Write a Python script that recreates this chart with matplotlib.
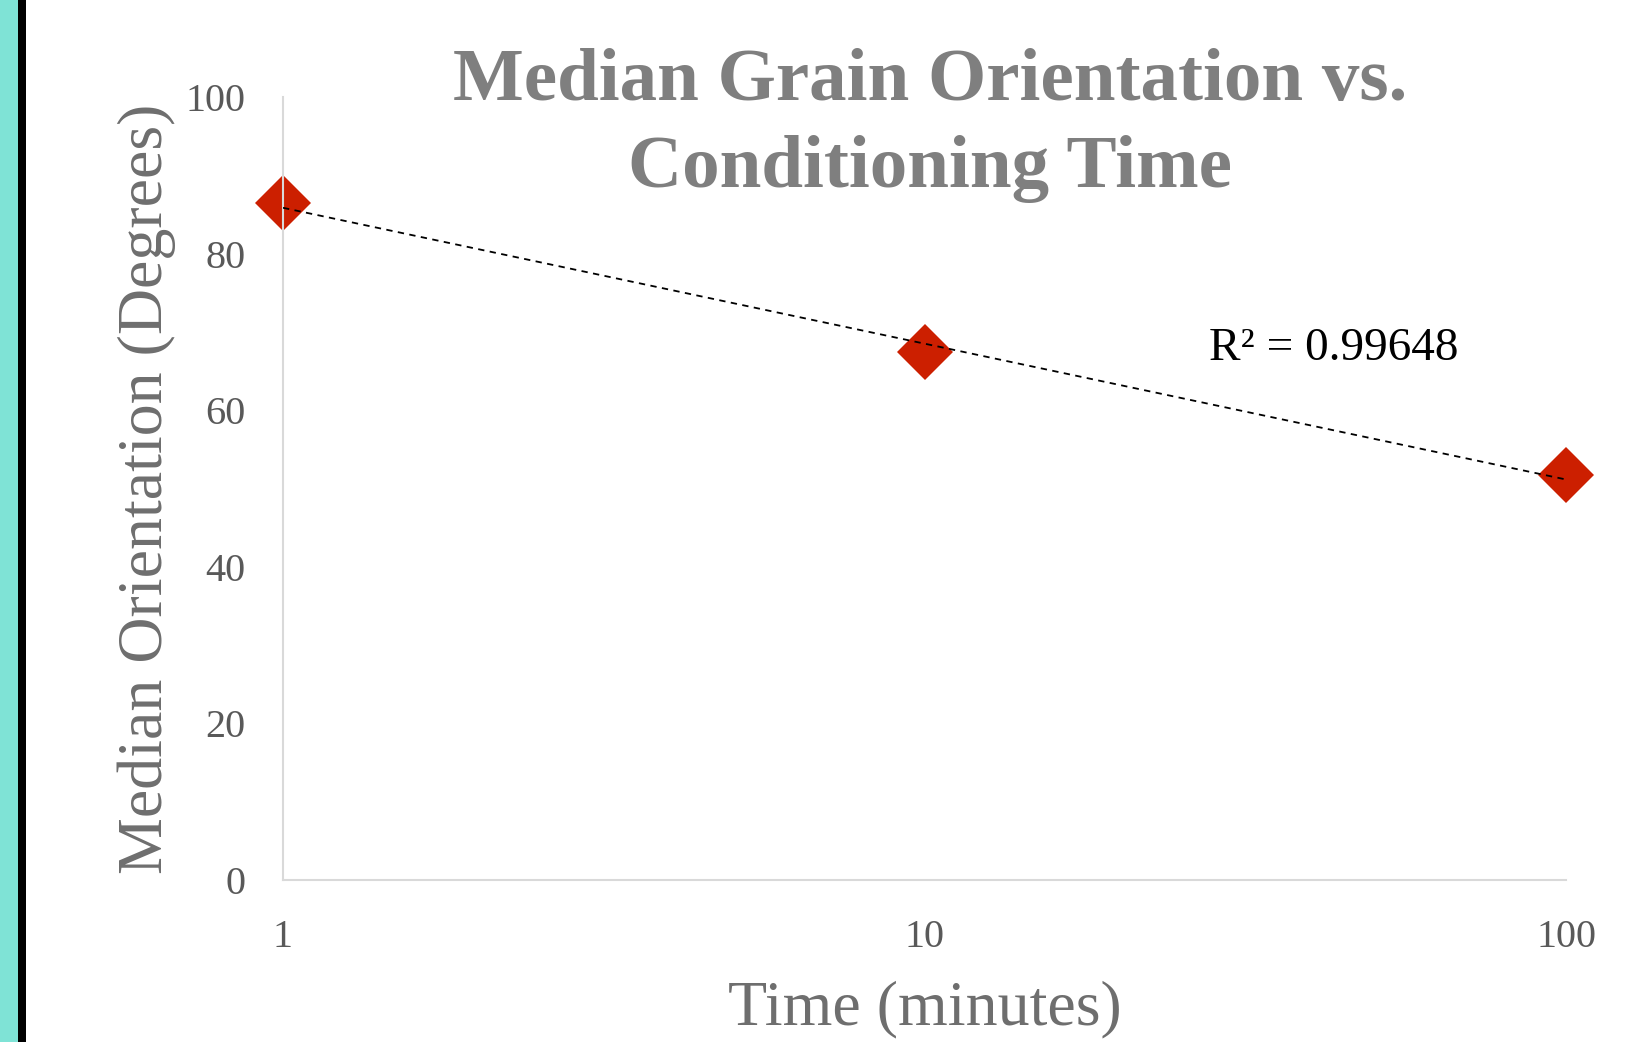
import numpy as np
import matplotlib
matplotlib.use("Agg")
import matplotlib.pyplot as plt
from matplotlib.patches import Rectangle

# data
time_min = [1, 10, 100]
median_orientation = [86.4, 67.4, 51.7]
r_squared_text = "R² = 0.99648"

TITLE = "Median Grain Orientation vs.\nConditioning Time"
X_LABEL = "Time (minutes)"
Y_LABEL = "Median Orientation (Degrees)"

SERIF = ["Liberation Serif", "DejaVu Serif"]
plt.rcParams["font.family"] = SERIF

W, H = 1645, 1042
fig = plt.figure(figsize=(W / 100, H / 100), dpi=100)
fig.patch.set_facecolor("white")

# teal frame strip + black rule on the left edge
fig.patches.append(Rectangle((0, 0), 18 / W, 1, transform=fig.transFigure,
                             facecolor="#7fe3d6", edgecolor="none", zorder=0))
fig.patches.append(Rectangle((18 / W, 0), 8 / W, 1, transform=fig.transFigure,
                             facecolor="black", edgecolor="none", zorder=0))

ax = fig.add_axes([283 / W, 1 - 880 / H, (1566 - 283) / W, (880 - 97) / H])
ax.set_xscale("log")
ax.set_xlim(1, 100)
ax.set_ylim(0, 100)
ax.set_yticks(range(0, 101, 20))
ax.set_xticks(time_min)
ax.set_xticklabels([str(t) for t in time_min])
ax.minorticks_off()

for side in ["top", "right"]:
    ax.spines[side].set_visible(False)
for side in ["left", "bottom"]:
    ax.spines[side].set_color("#d9d9d9")
    ax.spines[side].set_linewidth(1.5)

ax.tick_params(axis="both", length=0, labelsize=29, labelcolor="#595959")
ax.tick_params(axis="y", pad=27)
ax.tick_params(axis="x", pad=28)

# logarithmic trendline
logx = np.log10(time_min)
slope, intercept = np.polyfit(logx, median_orientation, 1)
xs = np.logspace(0, 2, 200)
ax.plot(xs, intercept + slope * np.log10(xs), color="black", lw=1.3,
        dashes=(3.5, 3), zorder=3)

ax.plot(time_min, median_orientation, linestyle="none", marker="D",
        markersize=29, color="#cc1f00", markeredgewidth=0, zorder=2,
        clip_on=False)

fig.text(1209 / W, 1 - 360 / H, r_squared_text, fontsize=34, color="black",
         ha="left", va="baseline")

fig.text(930 / W, 1 - 48 / H, TITLE, fontsize=54, fontweight="bold",
         color="#7f7f7f", ha="center", va="top", linespacing=1.36)

ax.set_xlabel(X_LABEL, fontsize=46, color="#6e6e6e", labelpad=18)
ax.set_ylabel(Y_LABEL, fontsize=46, color="#6e6e6e", labelpad=7)

fig.savefig("out.png", dpi=100)
